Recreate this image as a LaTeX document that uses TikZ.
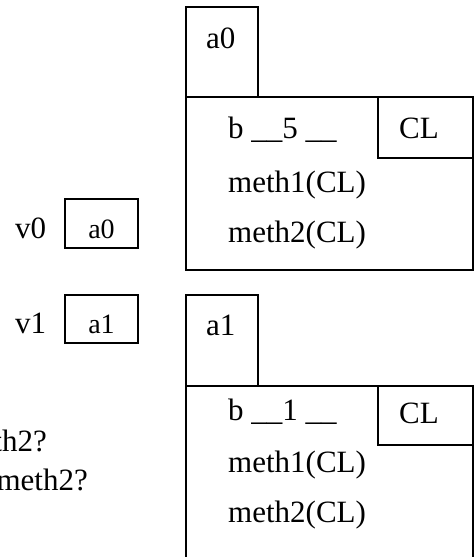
\documentclass[tikz,border=0pt]{standalone}
\usepackage{fontspec}
\setmainfont{Liberation Serif}
\begin{document}
\begin{tikzpicture}[x=1pt,y=-1pt,
  box/.style={draw, line width=1.6pt, inner sep=0pt, outer sep=0pt, anchor=north west},
  txt/.style={inner sep=0pt, anchor=base west, font=\fontsize{31}{34}\selectfont},
  rtxt/.style={inner sep=0pt, anchor=base east, font=\fontsize{31}{34}\selectfont},
  small/.style={inner sep=0pt, anchor=base, font=\fontsize{28}{32}\selectfont}]
\useasboundingbox (0,0) rectangle (476,557);
\clip (0,0) rectangle (476,557);

% upper object
\node[box, minimum width=72pt, minimum height=90pt] (top0) at (186,7) {};
\node[box, minimum width=287pt, minimum height=173pt] (obj0) at (186,97) {};
\node[box, minimum width=95pt, minimum height=61pt] (cl0) at (378,97) {};
\node[txt] (ta0) at (206,48) {a0};
\node[txt] (tcl0) at (399,138) {CL};
\node[txt] (tb0) at (228,138) {b \_\_5 \_\_};
\node[txt] (tm10) at (228,192) {meth1(CL)};
\node[txt] (tm20) at (228,242) {meth2(CL)};

% variables
\node[txt] (v0) at (15,238) {v0};
\node[box, minimum width=73pt, minimum height=49pt] (bv0) at (65,199) {};
\node[small] (tv0) at (101.5,238) {a0};
\node[txt] (v1) at (15,333) {v1};
\node[box, minimum width=73pt, minimum height=48pt] (bv1) at (65,295) {};
\node[small] (tv1) at (101.5,333) {a1};

% lower object
\node[box, minimum width=72pt, minimum height=91pt] (top1) at (186,295) {};
\node[box, minimum width=287pt, minimum height=220pt] (obj1) at (186,386) {};
\node[box, minimum width=95pt, minimum height=59pt] (cl1) at (378,386) {};
\node[txt] (ta1) at (206,335) {a1};
\node[txt] (tcl1) at (399,423) {CL};
\node[txt] (tb1) at (228,420) {b \_\_1 \_\_};
\node[txt] (tm11) at (228,472) {meth1(CL)};
\node[txt] (tm21) at (228,522) {meth2(CL)};

% question text at the left edge
\node[rtxt] (q1) at (47,451) {th2?};
\node[rtxt] (q2) at (88,490) {meth2?};
\end{tikzpicture}
\end{document}
